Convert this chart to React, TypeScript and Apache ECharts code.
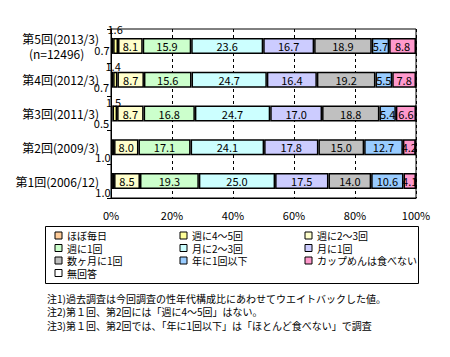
import React, { useEffect, useRef } from "react";
import * as echarts from "echarts";

// Categories bottom-to-top
const categories = ["第1回(2006/12)", "第2回(2009/3)", "第3回(2011/3)", "第4回(2012/3)", "第5回(2013/3)"];
const sampleNote = "(n=12496)";

const seriesNames = [
  "ほぼ毎日",
  "週に4～5回",
  "週に2～3回",
  "週に1回",
  "月に2～3回",
  "月に1回",
  "数ヶ月に1回",
  "年に1回以下",
  "カップめんは食べない",
  "無回答",
];

const almostDaily = [1.0, 1.0, 0.5, 0.7, 0.7];
const week4to5 = [null, null, 1.5, 1.4, 1.6];
const week2to3 = [8.5, 8.0, 8.7, 8.7, 8.1];
const week1 = [19.3, 17.1, 16.8, 15.6, 15.9];
const month2to3 = [25.0, 24.1, 24.7, 24.7, 23.6];
const month1 = [17.5, 17.8, 17.0, 16.4, 16.7];
const severalMonths = [14.0, 15.0, 18.8, 19.2, 18.9];
const yearOrLess = [10.6, 12.7, 5.4, 5.5, 5.7];
const neverEat = [4.1, 4.2, 6.6, 7.8, 8.8];
const noAnswer = [0, 0, 0, 0, 0];

const xTicks = [0, 20, 40, 60, 80, 100];

const notes = [
  "注1)過去調査は今回調査の性年代構成比にあわせてウエイトバックした値。",
  "注2)第１回、第2回には「週に4～5回」はない。",
  "注3)第１回、第2回では、「年に1回以下」は「ほとんど食べない」で調査",
];

const seriesData = [
  almostDaily,
  week4to5,
  week2to3,
  week1,
  month2to3,
  month1,
  severalMonths,
  yearOrLess,
  neverEat,
  noAnswer,
];

const colors = [
  "#FFCC99",
  "#FFFF99",
  "#FFFFCC",
  "#CCFFCC",
  "#CCFFFF",
  "#CCCCFF",
  "#C0C0C0",
  "#99CCFF",
  "#FF99CC",
  "#FFFFFF",
];

const FONT = "'Noto Sans CJK JP', 'Noto Sans', sans-serif";

// label offsets for the tiny segments (style, not data)
const dailyOffsets = [
  [-8, 18.5],
  [-8, 17.5],
  [-9.5, 17.5],
  [-9.5, 15.5],
  [-9, 12],
];
const week45Offsets = [
  [0, 0],
  [0, 0],
  [1, -4],
  [0, -6],
  [2, -9],
];

export default function App() {
  const ref = useRef<HTMLDivElement>(null);
  useEffect(() => {
    if (!ref.current) return;
    const chart = echarts.init(ref.current, null, { renderer: "svg" });

    const series = seriesNames.map((name, si) => {
      const values = seriesData[si];
      let data: any[] = values.map((v) => v);
      const baseLabel: any = {
        show: si !== 9,
        position: "inside",
        color: "#000",
        fontSize: 11,
        fontFamily: FONT,
        formatter: (p: any) => (p.value == null ? "" : Number(p.value).toFixed(1)),
      };
      if (si === 0) {
        data = values.map((v, i) => ({
          value: v,
          label: { position: dailyOffsets[i], align: "center", verticalAlign: "middle" },
        }));
      } else if (si === 1) {
        data = values.map((v, i) =>
          v == null
            ? null
            : {
                value: v,
                label: { position: week45Offsets[i], align: "center", verticalAlign: "middle" },
              }
        );
      }
      return {
        name,
        type: "bar",
        stack: "total",
        barWidth: 16,
        data,
        itemStyle: { color: colors[si], borderColor: "#000", borderWidth: 1.5 },
        label: baseLabel,
        emphasis: { disabled: true },
      };
    });

    const legendCols = [
      [seriesNames[0], seriesNames[3], seriesNames[6], seriesNames[9]],
      [seriesNames[1], seriesNames[4], seriesNames[7]],
      [seriesNames[2], seriesNames[5], seriesNames[8]],
    ];
    const legendLefts = [54.5, 179.5, 304.5];

    const option: any = {
      animation: false,
      backgroundColor: "#fff",
      textStyle: { fontFamily: FONT },
      grid: {
        left: 111,
        right: 34,
        top: 29,
        bottom: 159,
        show: true,
        borderColor: "#000",
        borderWidth: 1,
        backgroundColor: "#fff",
      },
      xAxis: {
        type: "value",
        min: 0,
        max: 100,
        interval: 20,
        axisLine: { show: true, lineStyle: { color: "#000", width: 1 } },
        axisTick: { show: false },
        axisLabel: {
          color: "#000",
          fontSize: 11,
          fontFamily: FONT,
          margin: 11,
          formatter: (v: number) => (xTicks.includes(v) ? v + "%" : ""),
        },
        splitLine: { show: true, lineStyle: { color: "#000", type: [3, 3], width: 1 } },
      },
      yAxis: {
        type: "category",
        data: categories,
        axisLine: { show: true, lineStyle: { color: "#000", width: 1 } },
        axisTick: { show: true, length: 4, lineStyle: { color: "#000" } },
        axisLabel: {
          color: "#000",
          fontSize: 12,
          fontFamily: FONT,
          margin: 12,
          lineHeight: 15,
          formatter: (v: string) =>
            v === categories[4] ? v + "\n" + sampleNote + "\u3000 " : v,
        },
        splitLine: { show: false },
      },
      legend: legendCols.map((col, ci) => ({
        data: col,
        orient: "vertical",
        left: legendLefts[ci],
        top: 229.5,
        padding: 0,
        itemWidth: 7,
        itemHeight: 7,
        itemGap: 0.5,
        icon: "rect",
        selectedMode: false,
        itemStyle: { borderColor: "#000", borderWidth: 1 },
        textStyle: { fontSize: 10, lineHeight: 12, color: "#000", fontFamily: FONT },
      })),
      graphic: [
        {
          type: "rect",
          shape: { x: 45.5, y: 226.5, width: 373, height: 57 },
          style: { fill: "none", stroke: "#000", lineWidth: 1 },
          silent: true,
        },
        ...notes.map((t, i) => ({
          type: "text",
          x: 47,
          y: 298 + i * 13.5,
          style: {
            text: t,
            fontSize: 10,
            fontFamily: FONT,
            fill: "#000",
            verticalAlign: "middle",
            align: "left",
          },
          silent: true,
        })),
      ],
      series,
    };

    chart.setOption(option);
    return () => chart.dispose();
  }, []);

  return (
    <div
      ref={ref}
      style={{ position: "fixed", left: 0, top: 0, width: 450, height: 357 }}
    />
  );
}
